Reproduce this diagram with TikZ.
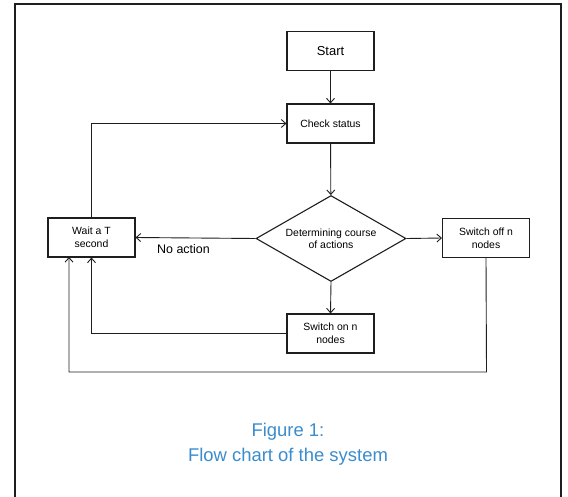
\documentclass[tikz,border=0pt]{standalone}
\usepackage{fontspec}
\setmainfont{Liberation Sans}
\usetikzlibrary{shapes.geometric,arrows.meta}
\definecolor{capblue}{RGB}{58,140,205}
\definecolor{ink}{RGB}{30,30,30}
\tikzset{
  stepbox/.style={draw=ink, line width=1.1bp, minimum width=87bp, minimum height=39bp,
    inner sep=0pt, align=center, font=\fontsize{10.5}{13.3}\selectfont},
  decision/.style={draw=ink, line width=1.1bp, shape=diamond, aspect=1.75,
    minimum width=150bp, minimum height=86bp, inner sep=0pt, align=center,
    font=\fontsize{10.5}{12.5}\selectfont},
  flow/.style={draw=ink, line width=0.9bp, -{Straight Barb[length=4.5bp,width=8bp,line width=0.9bp]}},
  link/.style={draw=ink, line width=0.9bp}
}
\begin{document}
\begin{tikzpicture}[x=1bp, y=-1bp]
  \useasboundingbox (0,0) rectangle (568,497);
  % outer frame, open at the bottom
  \draw[ink, line width=2bp] (15,505) -- (15,4) -- (561,4) -- (561,505);

  % process boxes and decision
  \node[stepbox, font=\fontsize{13}{15}\selectfont] (start) at (330.5,51) {Start};
  \node[stepbox] (check) at (330.5,123.5) {Check status};
  \node[decision] (decide) at (331,238.5) {Determining course\\of actions};
  \node[stepbox] (wait) at (91.5,237.5) {Wait a T\\second};
  \node[stepbox] (off) at (486,238) {Switch off n\\nodes};
  \node[stepbox] (on) at (330.5,333.5) {Switch on n\\nodes};

  % main flow
  \draw[flow] (start) -- (check);
  \draw[flow] (check) -- (decide);
  \draw[flow] (decide.west) -- (wait.east);
  \node[font=\fontsize{12.5}{14}\selectfont] (noact) at (183.5,249.5) {No action};
  \draw[flow] (decide.east) -- (off.west);
  \draw[flow] (decide.south) -- (on.north);

  % return paths to the wait step
  \draw[flow] (on.west) -| (wait.south);
  \coordinate (offdown) at (486.5,372);
  \coordinate (waitin) at (69,257);
  \draw[flow] (off.south) -- (offdown) -| (waitin);
  \draw[flow] (wait.north) |- (check.west);

  % caption
  \node[text=capblue, align=center, font=\fontsize{18.5}{25}\selectfont] (caption)
    at (288,444.5) {Figure 1:\\Flow chart of the system};
\end{tikzpicture}
\end{document}
